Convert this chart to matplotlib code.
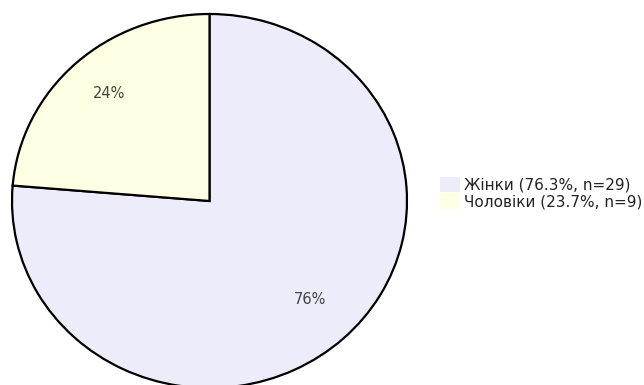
import numpy as np
import matplotlib.pyplot as plt
from matplotlib.patches import Patch

# data
labels = ["Жінки", "Чоловіки"]
counts = [29, 9]
shares = [76.3, 23.7]
colors = ["#ECECFB", "#FFFFE3"]

fig = plt.figure(figsize=(6.44, 3.85), dpi=100)
W, H = 644, 385

# pie is slightly stretched horizontally in the reference
cx, cy = 209.5, 385 - 201
rx, ry = 197.5, 187
pad = 1.02
ax = fig.add_axes([(cx - rx * pad) / W, (cy - ry * pad) / H,
                   2 * rx * pad / W, 2 * ry * pad / H])

wedges, texts, autotexts = ax.pie(
    counts, colors=colors, startangle=90, counterclock=False,
    autopct="%1.0f%%", pctdistance=0.75,
    wedgeprops=dict(edgecolor="black", linewidth=1.6),
    textprops=dict(color="#444444", fontsize=10.5))
ax.set_aspect("auto")
ax.set_xlim(-pad, pad)
ax.set_ylim(-pad, pad)

# small upward shift of the percent labels
for t in autotexts:
    x, y = t.get_position()
    t.set_position((x, y + 0.025))

handles = [Patch(facecolor=c, edgecolor="none") for c in colors]
names = [f"{l} ({s}%, n={n})" for l, s, n in zip(labels, shares, counts)]
fig.legend(handles, names, loc="center left", bbox_to_anchor=(440 / W, 1 - 193 / H),
           frameon=False, fontsize=11, handlelength=1.3, handleheight=1.15,
           handletextpad=0.25, labelspacing=0.05, labelcolor="#222222",
           borderaxespad=0, borderpad=0)

fig.savefig("out.png", dpi=100)
